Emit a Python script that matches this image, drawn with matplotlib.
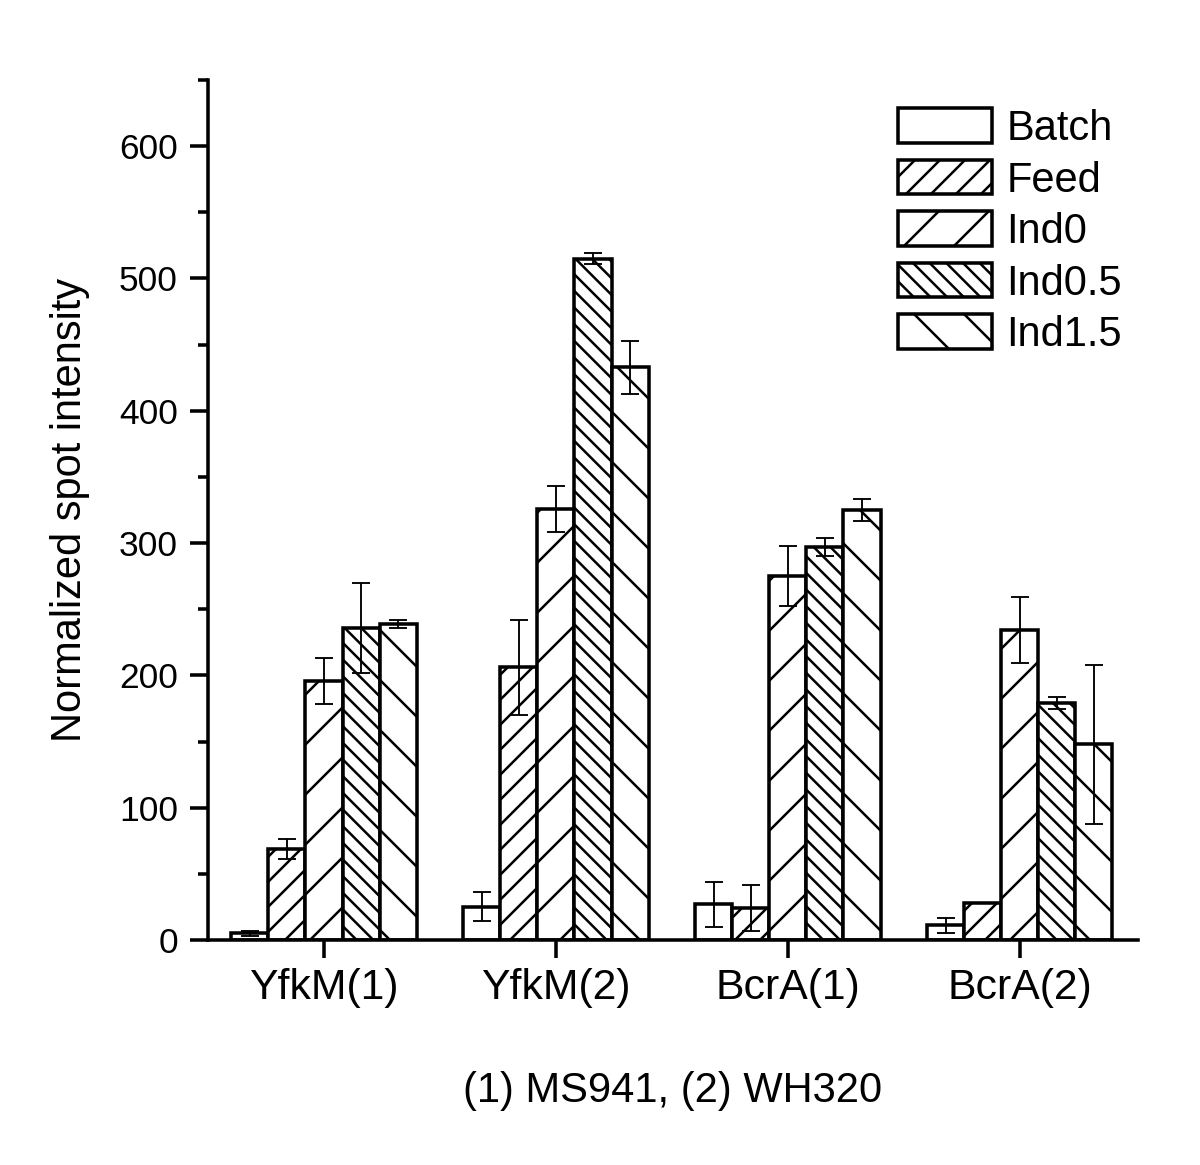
import numpy as np
import matplotlib
matplotlib.use("Agg")
import matplotlib.pyplot as plt

# -----------------------------
# Data
# -----------------------------
groups = ["YfkM(1)", "YfkM(2)", "BcrA(1)", "BcrA(2)"]
series = ["Batch", "Feed", "Ind0", "Ind0.5", "Ind1.5"]

batch = [5, 25, 27, 11]
feed = [69, 206, 24, 28]
ind0 = [196, 326, 275, 234]
ind05 = [236, 515, 297, 179]
ind15 = [239, 433, 325, 148]

batch_err = [2, 11, 17, 5.5]
feed_err = [7.5, 36, 17.5, 0]
ind0_err = [17.5, 17.5, 22.5, 25]
ind05_err = [34, 4, 7, 4.5]
ind15_err = [3, 20, 8.5, 60]

hatches = ["", "//", "/", "\\\\\\", "\\"]


def main():
    plt.rcParams["font.family"] = ["Liberation Sans", "DejaVu Sans"]
    plt.rcParams["hatch.linewidth"] = 1.2

    values = [batch, feed, ind0, ind05, ind15]
    errors = [batch_err, feed_err, ind0_err, ind05_err, ind15_err]

    fig = plt.figure(figsize=(8, 1165 / 150), dpi=150)
    ax = fig.add_axes([208 / 1200, 1 - 940 / 1165, (1138 - 208) / 1200, (940 - 80) / 1165])

    x = np.arange(len(groups))
    width = 0.16
    for i, name in enumerate(series):
        pos = x + (i - 2) * width
        ax.bar(pos, values[i], width, facecolor="white", edgecolor="black",
               linewidth=1.7, hatch=hatches[i], label=name, zorder=2)
        ax.errorbar(pos, values[i], yerr=errors[i], fmt="none", ecolor="black",
                    elinewidth=0.9, capsize=4.5, capthick=0.9, zorder=3)

    ax.set_xlim(-0.5, 3.51)
    ax.set_ylim(0, 650)
    ax.set_xticks(x)
    ax.set_xticklabels(groups, fontsize=20.5)
    ax.set_yticks(np.arange(0, 601, 100))
    ax.set_yticks(np.arange(50, 651, 100), minor=True)
    ax.tick_params(axis="y", labelsize=17, pad=6)

    for side in ["top", "right"]:
        ax.spines[side].set_visible(False)
    for side in ["left", "bottom"]:
        ax.spines[side].set_linewidth(1.7)

    ax.tick_params(which="major", direction="out", length=8.5, width=1.7)
    ax.tick_params(which="minor", direction="out", length=5, width=1.7)
    ax.tick_params(axis="x", pad=5)

    ax.set_ylabel("Normalized spot intensity", fontsize=20, labelpad=14)
    ax.set_xlabel("(1) MS941, (2) WH320", fontsize=20, labelpad=30)

    ax.legend(loc="upper left", bbox_to_anchor=(0.742, 0.967), frameon=False,
              fontsize=20, handlelength=2.25, handleheight=0.9,
              handletextpad=0.35, labelspacing=0.26, borderpad=0,
              borderaxespad=0)

    fig.savefig("out.png", dpi=150)


if __name__ == "__main__":
    main()
